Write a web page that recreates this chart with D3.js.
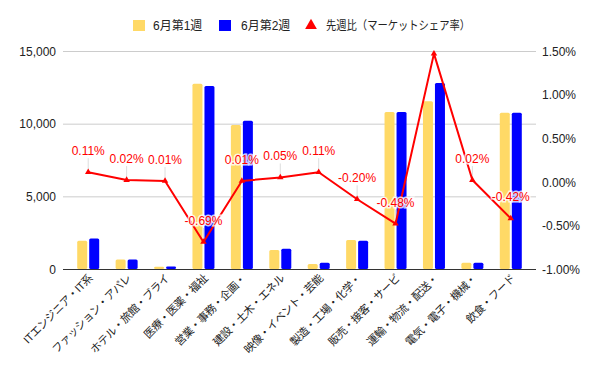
<!DOCTYPE html>
<html>
<head>
<meta charset="utf-8">
<script src="https://cdn.jsdelivr.net/npm/d3@7"></script>
<style>
  body { margin: 0; background: #fff; }
  text { font-family: "Liberation Sans", Arial, "Noto Sans CJK JP", sans-serif; }
</style>
</head>
<body>
<div id="chart"></div>
<script>
// chart data
const categories = ["ITエンジニア・IT系", "ファッション・アパレ", "ホテル・旅館・ブライ", "医療・医薬・福祉",
  "営業・事務・企画・", "建設・土木・エネル", "映像・イベント・芸能", "製造・工場・化学・",
  "販売・接客・サービ", "運輸・物流・配送・", "電気・電子・機械・", "飲食・フード"];
const week1 = [1950, 650, 150, 12750, 9900, 1300, 350, 2000, 10800, 11550, 430, 10750];
const week2 = [2100, 650, 170, 12600, 10200, 1400, 430, 1950, 10800, 12800, 430, 10750];
const shareChange = [0.11, 0.02, 0.01, -0.69, 0.01, 0.05, 0.11, -0.20, -0.48, 1.47, 0.02, -0.42];
const showLabel = [true, true, true, true, true, true, true, true, true, false, true, true];
const leftTicks = [0, 5000, 10000, 15000];
const rightTicks = [-1.0, -0.5, 0, 0.5, 1.0, 1.5];
const seriesNames = ["6月第1週", "6月第2週", "先週比（マーケットシェア率）"];

const width = 600, height = 371;
const svg = d3.select("#chart").append("svg")
  .attr("width", width)
  .attr("height", height);

// plain hyphen for negatives, like the original
const pct = d => d.toFixed(2) + "%";

// scales
const x = d3.scaleBand().domain(categories).range([69, 530]);
const yLeft = d3.scaleLinear().domain([0, 15000]).range([269, 51]);
const yRight = d3.scaleLinear().domain([-1, 1.5]).range([269, 51]);

// gridlines
svg.append("g")
  .selectAll("line")
  .data(leftTicks)
  .join("line")
  .attr("x1", 63).attr("x2", 536)
  .attr("y1", d => yLeft(d) + 0.5).attr("y2", d => yLeft(d) + 0.5)
  .attr("stroke", d => d === 0 ? "#333" : "#ccc")
  .attr("stroke-width", 1);

// left axis
const leftAxis = svg.append("g")
  .attr("transform", "translate(56,0)")
  .call(d3.axisLeft(yLeft).tickValues(leftTicks).tickSize(0).tickPadding(0).tickFormat(d3.format(",")));
leftAxis.select(".domain").remove();
leftAxis.selectAll("text").attr("font-size", 12).attr("fill", "#222").attr("dy", "0.35em");

// right axis
const rightAxis = svg.append("g")
  .attr("transform", "translate(542,0)")
  .call(d3.axisRight(yRight).tickValues(rightTicks).tickSize(0).tickPadding(0).tickFormat(pct));
rightAxis.select(".domain").remove();
rightAxis.selectAll("text").attr("font-size", 12).attr("fill", "#222").attr("dy", "0.35em");

// bars
const barW = 10, gap = 2;
const cx = d => x(d) + x.bandwidth() / 2;

svg.append("g")
  .selectAll("rect")
  .data(categories)
  .join("rect")
  .attr("x", (d) => cx(d) - gap / 2 - barW)
  .attr("y", (d, i) => yLeft(week1[i]))
  .attr("width", barW)
  .attr("height", (d, i) => yLeft(0) - yLeft(week1[i]))
  .attr("rx", 1.5)
  .attr("fill", "#ffd966");

svg.append("g")
  .selectAll("rect")
  .data(categories)
  .join("rect")
  .attr("x", (d) => cx(d) + gap / 2)
  .attr("y", (d, i) => yLeft(week2[i]))
  .attr("width", barW)
  .attr("height", (d, i) => yLeft(0) - yLeft(week2[i]))
  .attr("rx", 1.5)
  .attr("fill", "#0000ff");

// line
const points = categories.map((c, i) => ({ c, v: shareChange[i], show: showLabel[i] }));

// leader lines for labels
svg.append("g")
  .selectAll("line")
  .data(points.filter(p => p.show))
  .join("line")
  .attr("x1", p => cx(p.c)).attr("x2", p => cx(p.c))
  .attr("y1", p => yRight(p.v)).attr("y2", p => yRight(p.v) - 14)
  .attr("stroke", "#ddd")
  .attr("stroke-width", 1);

const line = d3.line()
  .x(p => cx(p.c))
  .y(p => yRight(p.v));

svg.append("path")
  .datum(points)
  .attr("fill", "none")
  .attr("stroke", "#ff0000")
  .attr("stroke-width", 2)
  .attr("stroke-linejoin", "round")
  .attr("d", line);

const tri = d3.symbol().type(d3.symbolTriangle).size(18);
svg.append("g")
  .selectAll("path")
  .data(points)
  .join("path")
  .attr("transform", p => `translate(${cx(p.c)},${yRight(p.v)})`)
  .attr("d", tri)
  .attr("fill", "#ff0000");

// data labels
svg.append("g")
  .selectAll("text")
  .data(points.filter(p => p.show))
  .join("text")
  .attr("x", p => cx(p.c))
  .attr("y", p => yRight(p.v) - 17)
  .attr("text-anchor", "middle")
  .attr("font-size", 12)
  .attr("fill", "#ff0000")
  .attr("stroke", "#fff")
  .attr("stroke-width", 3)
  .attr("stroke-opacity", 0.8)
  .attr("paint-order", "stroke")
  .text(p => pct(p.v));

// x axis labels
svg.append("g")
  .selectAll("text")
  .data(categories)
  .join("text")
  .attr("transform", d => `translate(${cx(d) + 5},279) rotate(-45)`)
  .attr("text-anchor", "end")
  .attr("font-size", 11)
  .attr("letter-spacing", "-0.4px")
  .attr("fill", "#222")
  .text(d => d);

// legend
const legend = svg.append("g");
legend.append("rect").attr("x", 133).attr("y", 20).attr("width", 12).attr("height", 11).attr("fill", "#ffd966");
legend.append("text").attr("x", 153).attr("y", 30).attr("font-size", 12).attr("fill", "#222").text(seriesNames[0]);
legend.append("rect").attr("x", 219).attr("y", 20).attr("width", 12).attr("height", 11).attr("fill", "#0000ff");
legend.append("text").attr("x", 241).attr("y", 30).attr("font-size", 12).attr("fill", "#222").text(seriesNames[1]);
legend.append("path")
  .attr("transform", "translate(311,25.5)")
  .attr("d", d3.symbol().type(d3.symbolTriangle).size(60))
  .attr("fill", "#ff0000");
legend.append("text").attr("x", 326).attr("y", 30).attr("font-size", 12).attr("fill", "#222")
  .attr("textLength", 144).attr("lengthAdjust", "spacingAndGlyphs")
  .text(seriesNames[2]);
</script>
</body>
</html>
